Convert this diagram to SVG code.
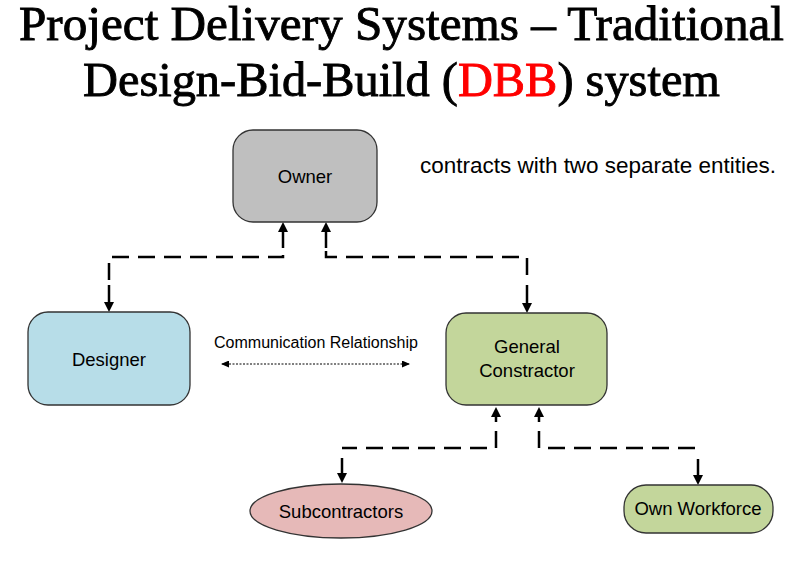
<svg xmlns="http://www.w3.org/2000/svg" width="803" height="564" viewBox="0 0 803 564">
<style>
.title{font-family:"Liberation Serif","Times New Roman",serif;font-size:48px;fill:#000;stroke:#000;stroke-width:0.9}
.lbl{font-family:"Liberation Sans",Arial,sans-serif;font-size:18.5px;fill:#000;text-anchor:middle}
.box{stroke:#333;stroke-width:1.3}
.dash{fill:none;stroke:#000;stroke-width:2.5;stroke-dasharray:17 9}
.solid{fill:none;stroke:#000;stroke-width:2.5;marker-end:url(#ah)}
</style>
<defs>
<marker id="ah" markerUnits="userSpaceOnUse" markerWidth="10" markerHeight="10" refX="6" refY="5" orient="auto" viewBox="0 0 10 10">
<path d="M0,0 L10,5 L0,10 z" fill="#000"/>
</marker>
<marker id="sm" markerUnits="userSpaceOnUse" markerWidth="8" markerHeight="7" refX="7" refY="3.5" orient="auto-start-reverse" viewBox="0 0 8 7">
<path d="M0,0 L8,3.5 L0,7 z" fill="#000"/>
</marker>
</defs>
<rect width="803" height="564" fill="#fff"/>
<text class="title" x="401.5" y="40" text-anchor="middle" textLength="765" lengthAdjust="spacingAndGlyphs">Project Delivery Systems – Traditional</text>
<text class="title" x="401.5" y="96" text-anchor="middle" textLength="637" lengthAdjust="spacingAndGlyphs">Design-Bid-Build (<tspan fill="#ff0000" stroke="#ff0000">DBB</tspan>) system</text>
<text x="420" y="173" font-family="'Liberation Sans',Arial,sans-serif" font-size="22" fill="#000" textLength="356" lengthAdjust="spacingAndGlyphs">contracts with two separate entities.</text>
<g id="connectors">
<g id="owner-designer">
<path class="solid" d="M283,248 L283,226"/>
<path class="dash" d="M109,280 L109,257 L283,257 L283,251"/>
<path class="solid" d="M109,285 L109,308"/>
</g>
<g id="owner-gc">
<path class="solid" d="M326,248 L326,226"/>
<path class="dash" d="M326,251 L326,257 L527,257 L527,280"/>
<path class="solid" d="M527,285 L527,309"/>
</g>
<g id="gc-sub">
<path class="solid" d="M496,422 L496,411"/>
<path class="dash" d="M496,431 L496,448 L342,448"/>
<path class="solid" d="M342,458 L342,479"/>
</g>
<g id="gc-ow">
<path class="solid" d="M539,422 L539,411"/>
<path class="dash" d="M539,431 L539,448 L698,448"/>
<path class="solid" d="M698,459 L698,481"/>
</g>
<g id="communication">
<path d="M222,364 L409,364" fill="none" stroke="#000" stroke-width="1" stroke-dasharray="2 1.5" marker-start="url(#sm)" marker-end="url(#sm)"/>
<text x="316" y="348" font-family="'Liberation Sans',Arial,sans-serif" font-size="16" text-anchor="middle" fill="#000" textLength="204" lengthAdjust="spacingAndGlyphs">Communication Relationship</text>
</g>
</g>
<g id="owner">
<rect class="box" x="233" y="130" width="144" height="92" rx="20" fill="#bfbfbf"/>
<text class="lbl" x="305" y="183">Owner</text>
</g>
<g id="designer">
<rect class="box" x="28" y="312" width="162" height="93" rx="20" fill="#b7dde8"/>
<text class="lbl" x="109" y="366">Designer</text>
</g>
<g id="general-contractor">
<rect class="box" x="446" y="313" width="161" height="92" rx="20" fill="#c3d69b"/>
<text class="lbl" x="527" y="353">General</text>
<text class="lbl" x="527" y="377">Constractor</text>
</g>
<g id="subcontractors">
<ellipse class="box" cx="341" cy="511" rx="91" ry="27" fill="#e6b9b8"/>
<text class="lbl" x="341" y="518" font-size="19">Subcontractors</text>
</g>
<g id="own-workforce">
<rect class="box" x="624" y="485" width="149" height="48" rx="22" fill="#c3d69b"/>
<text class="lbl" x="698" y="515" font-size="19">Own Workforce</text>
</g>
</svg>
